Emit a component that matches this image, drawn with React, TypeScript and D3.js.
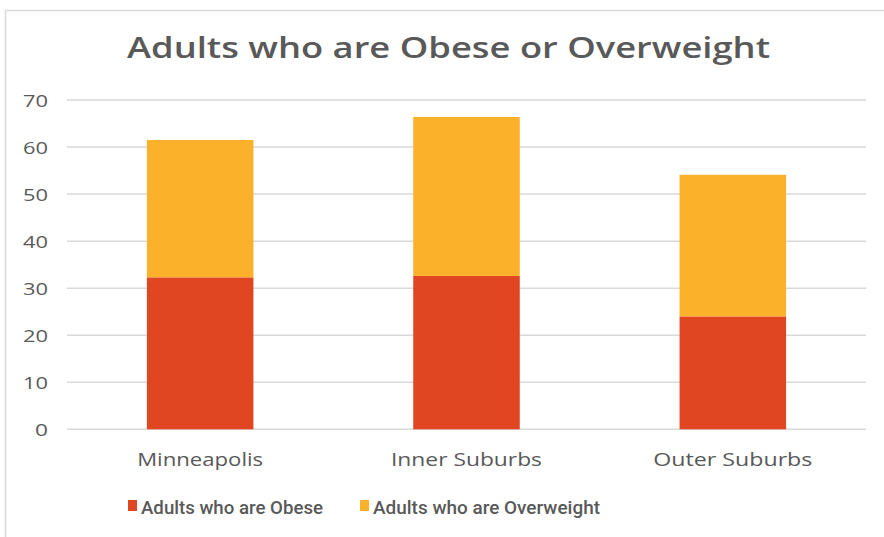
import React from "react";
import * as d3 from "d3";

const categories = ["Minneapolis", "Inner Suburbs", "Outer Suburbs"];
const obese = [32.3, 32.6, 24.0];
const overweight = [29.2, 33.8, 30.1];
const seriesNames = ["Adults who are Obese", "Adults who are Overweight"];
const colors = ["#E14623", "#FBB12A"];
const yTicks = [0, 10, 20, 30, 40, 50, 60, 70];
const title = "Adults who are Obese or Overweight";
const catLabelWidths = [126, 151, 159];
const legendWidths = [182, 227];

const W = 884;
const H = 537;
const font = "'Open Sans', sans-serif";
const textColor = "#595959";

export default function App() {
  const x = d3.scaleBand<string>().domain(categories).range([67, 866]);
  const y = d3.scaleLinear().domain([0, 70]).range([429.3, 100]);
  const barW = x.bandwidth() * 0.4;

  const rows = categories.map((c, i) => ({ c, obese: obese[i], overweight: overweight[i] }));
  const stack = d3.stack<any>().keys(["obese", "overweight"])(rows);

  return (
    <svg width={W} height={H} style={{ position: "absolute", left: 0, top: 0, background: "#fff" }}>
      <rect x={5.5} y={10.5} width={W} height={H} fill="#fff" stroke="#d9d9d9" strokeWidth={1.5} />
      <text
        x={127}
        y={57.5}
        textLength={643}
        lengthAdjust="spacingAndGlyphs"
        fontFamily={font}
        fontWeight={600}
        fontSize={28}
        fill={textColor}
      >
        {title}
      </text>
      {yTicks.map((t) => (
        <g key={t}>
          <line x1={67} x2={866} y1={y(t)} y2={y(t)} stroke="#d9d9d9" strokeWidth={1.5} />
          <text
            x={48}
            y={y(t) + 6.5}
            textAnchor="end"
            textLength={t === 0 ? 13 : 25}
            lengthAdjust="spacingAndGlyphs"
            fontFamily={font}
            fontSize={17}
            fill={textColor}
          >
            {t}
          </text>
        </g>
      ))}
      {stack.map((s, si) => (
        <g key={si} fill={colors[si]}>
          {s.map((d: any, i: number) => (
            <rect
              key={i}
              x={(x(categories[i]) as number) + (x.bandwidth() - barW) / 2}
              y={y(d[1])}
              width={barW}
              height={y(d[0]) - y(d[1])}
            />
          ))}
        </g>
      ))}
      {categories.map((c, i) => (
        <text
          key={c}
          x={(x(c) as number) + x.bandwidth() / 2 - catLabelWidths[i] / 2}
          y={466}
          textLength={catLabelWidths[i]}
          lengthAdjust="spacingAndGlyphs"
          fontFamily={font}
          fontSize={19}
          fill={textColor}
        >
          {c}
        </text>
      ))}
      {seriesNames.map((n, i) => {
        const lx = i === 0 ? 128 : 360;
        return (
          <g key={n}>
            <rect x={lx} y={500} width={9} height={11} fill={colors[i]} />
            <text
              x={lx + 13}
              y={514}
              textLength={legendWidths[i]}
              lengthAdjust="spacingAndGlyphs"
              fontFamily="Roboto, sans-serif"
              fontWeight={500}
              fontSize={19}
              fill={textColor}
            >
              {n}
            </text>
          </g>
        );
      })}
    </svg>
  );
}
